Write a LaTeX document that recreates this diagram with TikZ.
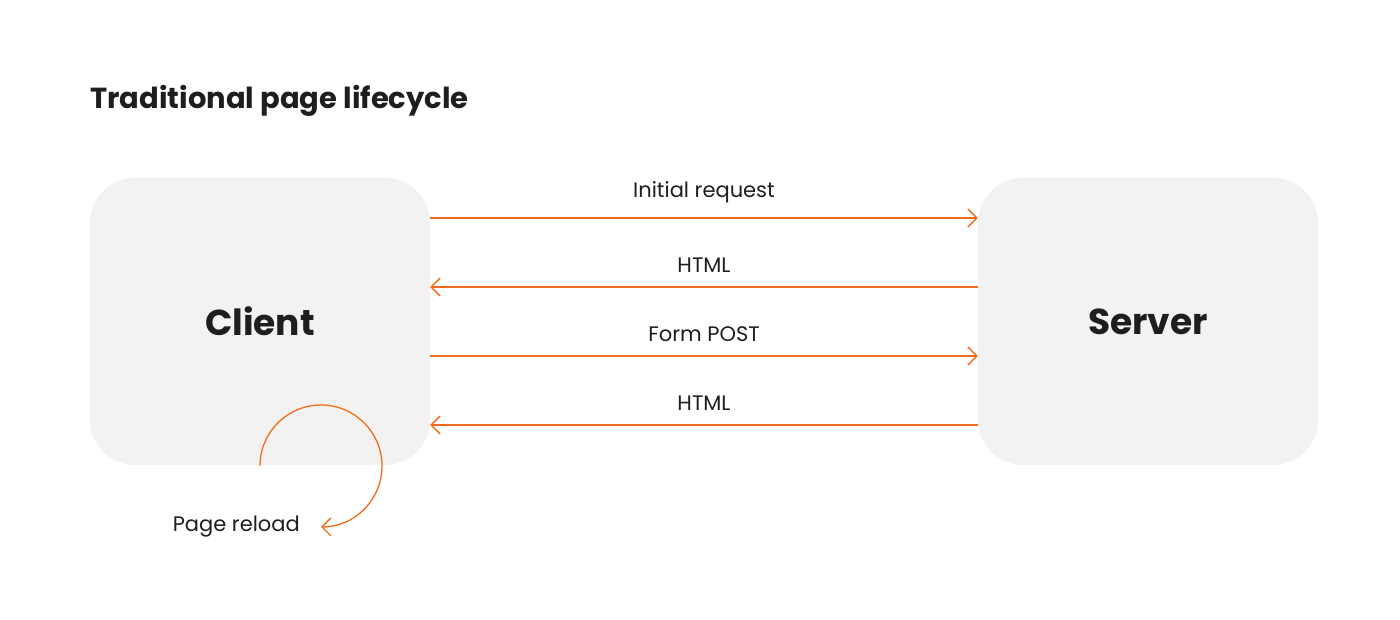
\documentclass[tikz,border=0pt]{standalone}
\usepackage{fontspec}
\setmainfont{Poppins}
\usetikzlibrary{arrows.meta}
\definecolor{boxc}{HTML}{F3F2F1}
\definecolor{orng}{HTML}{F26B1D}
\definecolor{txt}{HTML}{1E1E1E}
\begin{document}
\begin{tikzpicture}[x=1pt,y=1pt,
  box/.style={fill=boxc,draw=none,rounded corners=45pt,minimum width=340pt,minimum height=287pt,inner sep=0pt,text=txt,font=\fontsize{36}{40}\selectfont\bfseries},
  arr/.style={draw=orng,line width=1.3pt,-{Straight Barb[length=9pt,width=18pt,line width=1.3pt]}},
  lbl/.style={text=txt,font=\fontsize{21}{24}\selectfont,inner sep=0pt}]
\useasboundingbox (0,0) rectangle (1400,620);
\node[anchor=west,text=txt,font=\fontsize{29}{34}\selectfont\bfseries,inner sep=0pt] (title) at (90,519) {Traditional page lifecycle};
\node[box] (client) at (260,298.5) {Client};
\node[box] (server) at (1148,298.5) {Server};
\draw[arr] ([yshift=103.5pt]client.east) -- node[lbl,above=14pt]{Initial request} ([yshift=103.5pt]server.west);
\draw[arr] ([yshift=34.5pt]server.west) -- node[lbl,above=14pt]{HTML} ([yshift=34.5pt]client.west-|client.east);
\draw[arr] ([yshift=-34.5pt]client.east) -- node[lbl,above=14pt]{Form POST} ([yshift=-34.5pt]server.west);
\draw[arr] ([yshift=-103.5pt]server.west) -- node[lbl,above=14pt]{HTML} ([yshift=-103.5pt]client.east);
\coordinate (arcstart) at (260,154);
\draw[arr] (arcstart) arc[start angle=180,end angle=-90,radius=61] coordinate (arcend);
\node[lbl,anchor=east] (reload) at (300,93) {Page reload};
\end{tikzpicture}
\end{document}
